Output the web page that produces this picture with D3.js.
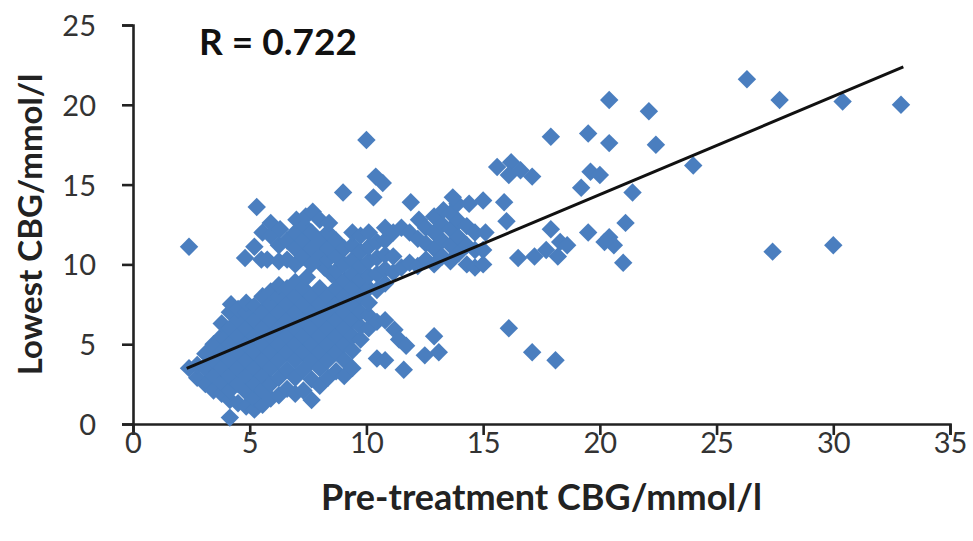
<!DOCTYPE html>
<html>
<head>
<meta charset="utf-8">
<script src="https://cdn.jsdelivr.net/npm/d3@7"></script>
<style>
  body { margin: 0; background: #fff; }
  text { font-family: Lato, 'Open Sans', sans-serif; }
</style>
</head>
<body>
<div class="chart"></div>
<script>
  const width = 973;
  const height = 541;
  const margin = {
    top: 25,
    right: 23,
    bottom: 117,
    left: 133,
  }

  // [pre-treatment CBG, lowest CBG] in mmol/l
  const points = [
    [2.4,3.5],[2.4,11.1],
    [2.75,2.9],[2.75,3.7],
    [3.1,2.5],[3.1,3.5],[3.1,4.4],
    [3.45,2.1],[3.45,3.0],[3.45,4.0],[3.45,5.0],
    [3.8,1.9],[3.8,2.6],[3.8,3.5],[3.8,4.5],[3.8,5.5],[3.8,6.3],
    [4.15,0.4],[4.15,1.5],[4.15,2.1],[4.15,3.0],[4.15,4.0],[4.15,5.0],[4.15,6.0],[4.15,7.0],[4.2,7.5],
    [4.5,1.3],[4.5,2.5],[4.5,3.5],[4.5,4.5],[4.5,5.5],[4.5,6.5],[4.5,7.2],
    [4.85,1.1],[4.85,2.0],[4.85,3.0],[4.85,4.0],[4.85,5.0],[4.85,6.0],[4.85,7.0],[4.85,7.6],
    [5.2,0.9],[5.2,1.6],[5.2,2.5],[5.2,3.5],[5.2,4.5],[5.2,5.5],[5.2,6.5],[5.2,7.4],
    [5.55,1.2],[5.55,2.1],[5.55,3.0],[5.55,4.0],[5.55,5.0],[5.55,6.0],[5.55,7.0],[5.55,8.0],
    [5.9,1.6],[5.9,2.5],[5.9,3.5],[5.9,4.5],[5.9,5.5],[5.9,6.5],[5.9,7.5],[5.9,8.3],
    [6.25,1.8],[6.25,2.9],[6.25,4.0],[6.25,5.0],[6.25,6.0],[6.25,7.0],[6.25,8.0],[6.25,8.7],
    [6.6,2.2],[6.6,3.4],[6.6,4.5],[6.6,5.5],[6.6,6.5],[6.6,7.5],[6.6,8.5],
    [6.95,1.9],[6.95,2.9],[6.95,4.0],[6.95,5.0],[6.95,6.0],[6.95,7.0],[6.95,8.0],[6.95,8.9],
    [7.3,2.1],[7.3,3.4],[7.3,4.5],[7.3,5.5],[7.3,6.5],[7.3,7.5],[7.3,8.5],[7.45,9.2],
    [7.65,1.5],[7.65,2.8],[7.65,4.0],[7.65,5.0],[7.65,6.0],[7.65,7.0],[7.65,8.0],
    [8.0,2.4],[8.0,3.5],[8.0,4.5],[8.0,5.5],[8.0,6.5],[8.0,7.5],[8.0,8.5],
    [8.35,2.9],[8.35,4.0],[8.35,5.0],[8.35,6.0],[8.35,7.0],[8.35,8.0],[8.5,9.4],[8.2,9.8],
    [8.7,3.3],[8.7,4.5],[8.7,5.5],[8.7,6.5],[8.7,7.5],[8.7,8.5],[8.7,9.2],
    [9.05,3.0],[9.05,4.0],[9.05,5.0],[9.05,6.0],[9.05,7.0],[9.05,8.0],[9.05,9.0],
    [9.4,3.5],[9.4,4.6],[9.4,5.5],[9.4,6.5],[9.4,7.5],[9.4,8.5],[9.4,9.4],
    [9.75,5.3],[9.75,6.1],[9.75,7.0],[9.75,8.0],[9.75,9.0],
    [10.1,6.0],[10.1,6.8],[10.1,7.6],[10.1,8.5],[10.1,9.3],
    [10.45,4.1],[10.45,6.4],[10.45,8.4],
    [10.8,4.0],[10.8,6.5],[10.8,8.8],
    [11.2,5.9],[11.4,5.3],[11.6,3.4],[11.7,4.9],[12.5,4.3],[12.9,5.5],[13.1,4.5],
    [4.8,10.4],
    [5.2,11.1],[5.3,13.6],
    [5.5,10.3],[5.55,12.0],
    [5.75,10.3],[5.9,11.8],[5.9,12.6],
    [6.25,10.2],[6.25,11.2],[6.3,12.2],
    [6.6,10.3],[6.6,11.5],
    [6.95,10.0],[6.95,11.0],[6.95,12.0],[7.0,12.8],
    [7.3,10.5],[7.3,11.5],[7.35,12.4],[7.4,13.0],
    [7.65,10.0],[7.65,11.0],[7.65,12.0],[7.7,13.3],
    [8.0,10.5],[8.0,11.5],[8.0,12.8],
    [8.35,10.3],[8.35,11.0],[8.35,12.0],[8.4,12.6],
    [8.7,9.6],[8.7,10.5],[8.7,11.5],
    [9.05,10.0],[9.05,11.0],[9.0,14.5],
    [9.4,10.3],[9.4,11.2],[9.4,12.0],
    [9.75,9.9],[9.75,10.8],[9.75,11.8],
    [10.0,17.8],
    [10.1,10.2],[10.1,11.1],[10.1,12.0],[10.3,14.2],
    [10.45,9.4],[10.45,10.4],[10.45,11.4],[10.4,15.5],
    [10.8,9.7],[10.8,10.6],[10.8,11.5],[10.8,12.3],[10.7,15.1],
    [11.15,9.5],[11.15,10.5],[11.15,12.0],
    [11.5,9.8],[11.5,12.3],
    [11.85,10.1],[11.85,12.0],[11.9,13.9],
    [12.2,9.9],[12.2,11.6],[12.25,12.8],
    [12.55,10.3],[12.55,11.3],[12.55,12.3],
    [12.9,10.0],[12.9,11.0],[12.9,12.0],[12.9,13.0],
    [13.25,10.5],[13.25,11.5],[13.25,12.5],[13.3,13.4],
    [13.6,10.2],[13.6,11.2],[13.6,12.2],[13.6,13.2],
    [13.95,10.7],[13.95,11.7],[13.95,12.7],[13.9,13.8],[13.7,14.2],
    [14.3,10.0],[14.3,11.2],[14.3,12.4],[14.4,13.8],
    [14.65,9.8],[14.65,10.9],[14.65,12.0],
    [15.0,10.0],[15.0,10.9],[15.1,12.0],[15.0,14.0],[15.9,13.9],[16.0,12.7],
    [15.6,16.1],[16.2,16.4],[16.1,15.6],[16.6,15.9],[17.1,15.5],
    [19.6,15.8],[20.0,15.6],[19.2,14.8],[21.4,14.5],
    [17.9,12.2],[18.3,11.4],[17.7,10.9],[17.2,10.5],[16.5,10.4],[18.2,10.5],
    [18.6,11.2],[19.5,12.0],[20.4,11.7],[20.6,11.2],[20.2,11.4],[21.1,12.6],[21.0,10.1],
    [16.1,6.0],[17.1,4.5],[18.1,4.0],
    [26.3,21.6],[27.7,20.3],[30.4,20.2],[32.9,20.0],[27.4,10.8],[30.0,11.2],
    [24.0,16.2],[20.4,20.3],[22.1,19.6],[22.4,17.5],[20.4,17.6],[19.5,18.2],[17.9,18.0],
  ]

  // fitted line ends
  const trendX = [2.3, 33.0]
  const trendY = [3.49, 22.37]

  const xTicks = [0, 5, 10, 15, 20, 25, 30, 35]
  const yTicks = [0, 5, 10, 15, 20, 25]

  const xScale = d3.scaleLinear()
    .domain([0, 35])
    .range([margin.left, width - margin.right])

  const yScale = d3.scaleLinear()
    .domain([0, 25])
    .range([height - margin.bottom, margin.top])

  const svg = d3.select('.chart').append('svg')
    .attr('width', width)
    .attr('height', height)

  const xAxis = d3.axisBottom(xScale)
    .tickValues(xTicks)
    .tickSize(11)
    .tickFormat(d3.format('d'))

  const yAxis = d3.axisLeft(yScale)
    .tickValues(yTicks)
    .tickSize(11)
    .tickFormat(d3.format('d'))

  const gx = svg.append('g')
    .attr('class', 'x-axis')
    .attr('transform', `translate(0, ${height - margin.bottom})`)
    .call(xAxis)

  gx.selectAll('text')
    .attr('y', 29)
    .attr('dy', 0)
    .attr('fill', '#333')
    .style('font-size', '29px')

  const gy = svg.append('g')
    .attr('class', 'y-axis')
    .attr('transform', `translate(${margin.left}, 0)`)
    .call(yAxis)

  gy.selectAll('text')
    .attr('x', -37)
    .attr('dy', '0.36em')
    .attr('fill', '#333')
    .style('font-size', '29px')

  svg.selectAll('.domain, .tick line')
    .attr('stroke', '#222')
    .attr('stroke-width', 2.6)

  const diamond = d3.symbol().type(d3.symbolSquare).size(170)

  svg.append('g')
    .attr('class', 'points')
    .selectAll('path')
    .data(points)
    .join('path')
    .attr('d', diamond)
    .attr('transform', d => `translate(${xScale(d[0])}, ${yScale(d[1])}) rotate(45)`)
    .attr('fill', '#4a7ebf')

  svg.append('line')
    .attr('x1', xScale(trendX[0]))
    .attr('y1', yScale(trendY[0]))
    .attr('x2', xScale(trendX[1]))
    .attr('y2', yScale(trendY[1]))
    .attr('stroke', '#111')
    .attr('stroke-width', 3)

  svg.append('text')
    .attr('x', 199)
    .attr('y', 55)
    .style('font-size', '37px')
    .style('font-weight', 'bold')
    .attr('fill', '#111')
    .text('R = 0.722')

  svg.append('text')
    .attr('x', (margin.left + width - margin.right) / 2)
    .attr('y', 510)
    .attr('text-anchor', 'middle')
    .style('font-size', '36px')
    .style('font-weight', 'bold')
    .attr('fill', '#222')
    .text('Pre-treatment CBG/mmol/l')

  svg.append('text')
    .attr('transform', `translate(42, ${(margin.top + height - margin.bottom) / 2}) rotate(-90)`)
    .attr('text-anchor', 'middle')
    .style('font-size', '33px')
    .style('font-weight', 'bold')
    .attr('fill', '#222')
    .text('Lowest CBG/mmol/l')
</script>
</body>
</html>
